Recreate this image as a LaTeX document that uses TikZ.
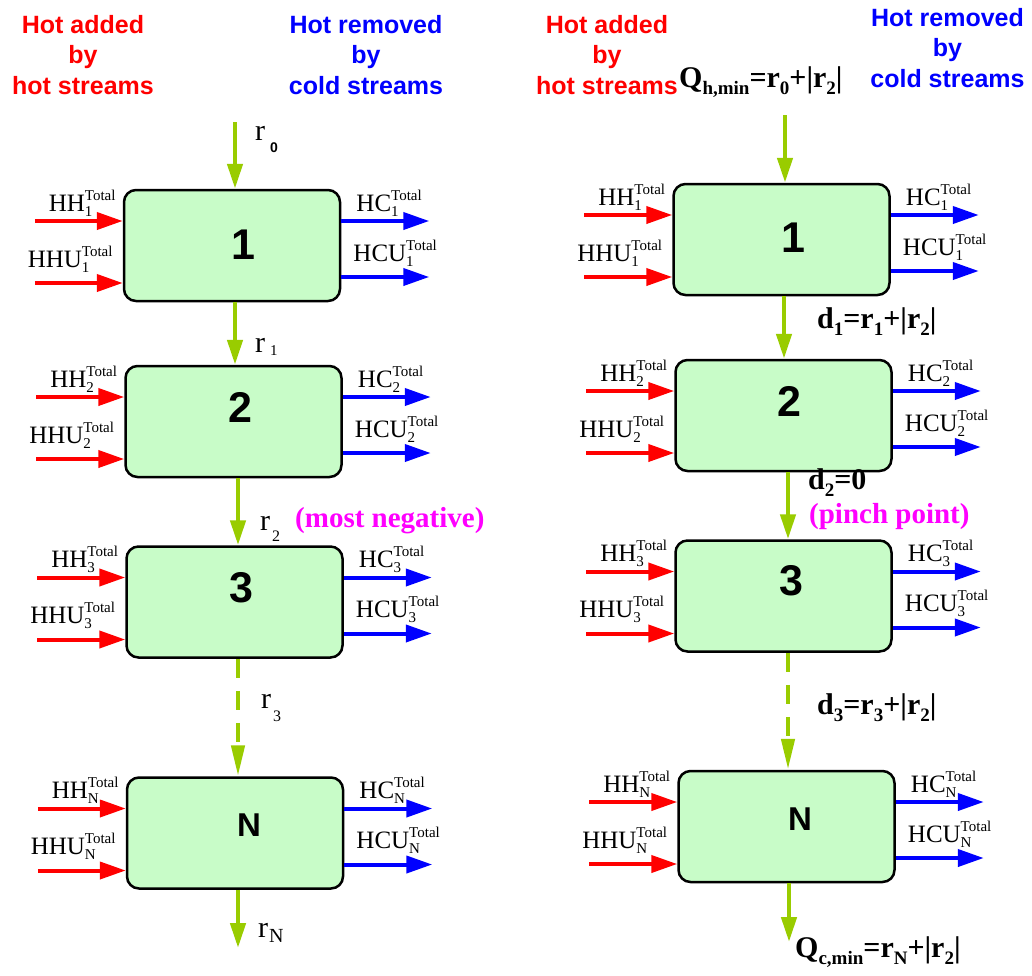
\documentclass[tikz,border=0pt]{standalone}
\usepackage{fontspec}
\setmainfont{Liberation Serif}
\newfontfamily\hfont{Liberation Sans}
\usetikzlibrary{arrows.meta,calc}
\definecolor{grn}{HTML}{99CC00}
\definecolor{boxfill}{HTML}{C8FCC8}
\definecolor{mag}{HTML}{FF00FF}
\definecolor{hred}{HTML}{FF0000}
\definecolor{hblue}{HTML}{0000FF}
\newcommand\fs[1]{\fontsize{#1}{#1}\selectfont}
\newcommand\lbl[3]{{\fs{25}#1}\rlap{\raisebox{-5pt}{\fs{15}#2}}\raisebox{11pt}{\fs{15}#3}}
\newcommand\bsub[1]{\raisebox{-7pt}{\fs{19}\bfseries #1}}
\tikzset{
  stagebox/.style={draw=black,line width=2.5pt,fill=boxfill,rounded corners=12pt,
    minimum width=216pt,minimum height=111pt,inner sep=0pt},
  numtxt/.style={inner sep=0pt,font=\hfont\bfseries},
  harrow/.style={draw=hred,line width=4pt,-{Triangle[length=26pt,width=17pt]}},
  carrow/.style={draw=hblue,line width=4pt,-{Triangle[length=26pt,width=17pt]}},
  garrow/.style={draw=grn,line width=4.5pt,-{Triangle[length=25pt,width=15pt]}},
  gdash/.style={garrow,dash pattern=on 19pt off 13pt,-{Triangle[length=31pt,width=13pt]}},
  lab/.style={inner sep=0pt},
  rlab/.style={inner sep=0pt,font=\fs{30}},
  blab/.style={inner sep=0pt,font=\fs{30}\bfseries},
  hdr/.style={inner sep=0pt,align=center,anchor=north,font=\hfont\bfseries\fontsize{25}{30.5}\selectfont},
}
% #1 name, #2 cx, #3 cy, #4 digit, #5 digit size, #6 digit position, #7 subscript
\newcommand\stage[7]{%
  \node[stagebox] (#1) at (#2,#3) {};
  \node[numtxt,font=\hfont\bfseries\fs{#5}] (#1n) at #6 {#4};
  \coordinate (#1h1) at ($(#1.west)+(-88,-24.5)$);
  \coordinate (#1h2) at ($(#1.west)+(-88,37.5)$);
  \coordinate (#1c1) at ($(#1.east)+(88,-24.5)$);
  \coordinate (#1c2) at ($(#1.east)+(88,31.5)$);
  \draw[harrow] (#1h1) -- (#1h1 -| #1.west);
  \draw[harrow] (#1h2) -- (#1h2 -| #1.west);
  \draw[carrow] (#1c1 -| #1.east) -- (#1c1);
  \draw[carrow] (#1c2 -| #1.east) -- (#1c2);
  \node[lab,anchor=base east] (#1lh1) at ($(#1.west)+(-7,-34.5)$) {\lbl{HH}{#7}{Total}};
  \node[lab,anchor=base east] (#1lh2) at ($(#1.west)+(-10,21.5)$) {\lbl{HHU}{#7}{Total}};
  \node[lab,anchor=base west] (#1lc1) at ($(#1.east)+(15,-34.5)$) {\lbl{HC}{#7}{Total}};
  \node[lab,anchor=base west] (#1lc2) at ($(#1.east)+(12,15.5)$) {\lbl{HCU}{#7}{Total}};
}
\begin{document}
\begin{tikzpicture}[x=1pt,y=-1pt]
\path[use as bounding box,fill=white] (0,0) rectangle (1032,975);

% headers
\node[hdr,text=hred] (hl1) at (83,15) {Hot added\\by\\hot streams};
\node[hdr,text=hblue] (hl2) at (366,15) {Hot removed\\by\\cold streams};
\node[hdr,text=hred] (hr1) at (607,15) {Hot added\\by\\hot streams};
\node[hdr,text=hblue] (hr2) at (947.5,8) {Hot removed\\by\\cold streams};

% left column
\stage{la}{232}{245.5}{1}{43}{(243,245)}{1}
\stage{lb}{233.5}{421.5}{2}{43}{(240,407.5)}{2}
\stage{lc}{234.5}{602}{3}{43}{(241.5,588)}{3}
\stage{ld}{235}{833}{N}{33}{(249,825)}{N}

\coordinate (ltop) at (235,122);
\coordinate (lbot) at (238,948);
\draw[garrow] (ltop) -- (ltop |- la.north);
\draw[garrow] ([xshift=3pt]la.south) -- ([xshift=3pt]la.south |- lb.north);
\draw[garrow] ([xshift=4.5pt]lb.south) -- ([xshift=4.5pt]lb.south |- lc.north);
\draw[gdash] ([xshift=3.5pt]lc.south) -- ([xshift=3.5pt]lc.south |- ld.north);
\draw[garrow] (lbot |- ld.south) -- (lbot);

\node[rlab,anchor=base west] (r0) at (255,140) {r\hspace{5pt}\raisebox{-12pt}{\hfont\bfseries\fs{14}0}};
\node[rlab,anchor=base west] (r1) at (255,352) {r\hspace{5pt}\raisebox{-3pt}{\fs{15}1}};
\node[rlab,anchor=base west] (r2) at (260,530) {r\hspace{2pt}\raisebox{-11pt}{\fs{16}2}};
\node[rlab,anchor=base west] (r3) at (261,708) {r\hspace{2pt}\raisebox{-13pt}{\fs{16}3}};
\node[rlab,anchor=base west] (rN) at (258,937) {r\hspace{1pt}\raisebox{-5pt}{\fs{20}N}};
\node[blab,text=mag,anchor=base west,font=\fs{29}\bfseries] (mn) at (295,527) {(most negative)};

% right column
\stage{ra}{781.5}{239.5}{1}{43}{(793,237.5)}{1}
\stage{rb}{783.5}{415.5}{2}{43}{(789.5,401.7)}{2}
\stage{rc}{783.5}{596}{3}{43}{(791,581)}{3}
\stage{rd}{786.5}{826.5}{N}{33}{(800,819)}{N}

\coordinate (rtop) at (785,115);
\coordinate (rbot) at (789,942);
\draw[garrow] (rtop) -- (rtop |- ra.north);
\draw[garrow] ([xshift=2.5pt]ra.south) -- ([xshift=2.5pt]ra.south |- rb.north);
\draw[garrow] ([xshift=4.5pt]rb.south) -- ([xshift=4.5pt]rb.south |- rc.north);
\draw[gdash] ([xshift=4.5pt]rc.south) -- ([xshift=4.5pt]rc.south |- rd.north);
\draw[garrow] (rbot |- rd.south) -- (rbot);

\node[blab,anchor=base west] (qh) at (679,87) {Q\bsub{h,min}=r\bsub{0}+|r\bsub{2}|};
\node[blab,anchor=base west] (d1) at (817,328) {d\bsub{1}=r\bsub{1}+|r\bsub{2}|};
\node[blab,anchor=base west] (d2) at (808,489) {d\bsub{2}=0};
\node[blab,text=mag,anchor=base west,font=\fs{29}\bfseries] (pp) at (809,523) {(pinch point)};
\node[blab,anchor=base west] (d3) at (817,714) {d\bsub{3}=r\bsub{3}+|r\bsub{2}|};
\node[blab,anchor=base west] (qc) at (795,957) {Q\bsub{c,min}=r\bsub{N}+|r\bsub{2}|};
\end{tikzpicture}
\end{document}
